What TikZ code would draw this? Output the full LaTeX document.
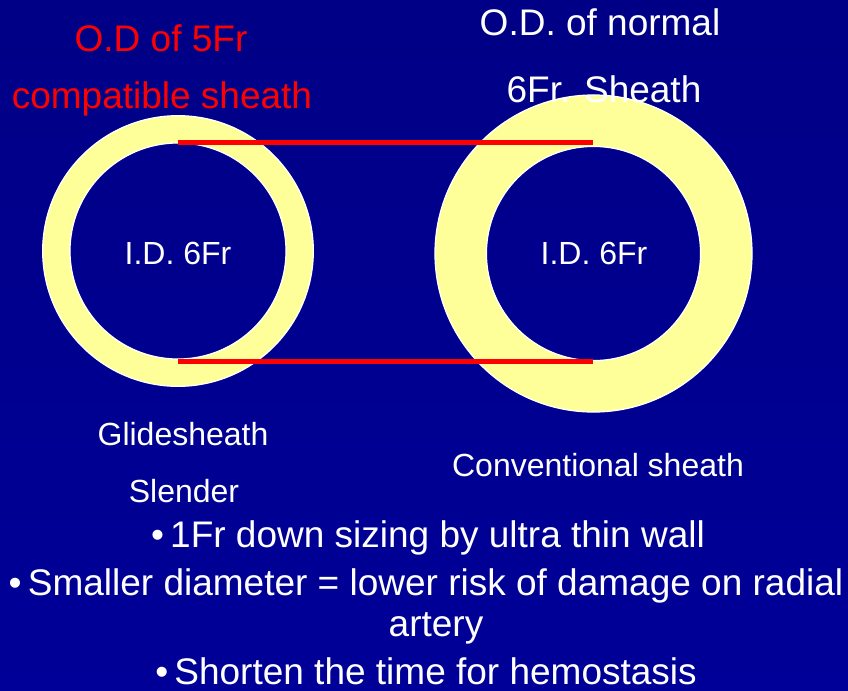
\documentclass[tikz,border=0pt]{standalone}
\usepackage{fontspec}
\setmainfont{Liberation Sans}
\usetikzlibrary{calc}

\definecolor{bgtop}{RGB}{0,0,134}
\definecolor{bgbot}{RGB}{0,0,152}
\definecolor{sheath}{RGB}{255,255,153}
\definecolor{odred}{RGB}{255,0,0}

\begin{document}
\begin{tikzpicture}[x=0.75pt,y=-0.75pt,
  big/.style={font=\fontsize{27.75}{33}\selectfont,anchor=base,inner sep=0pt},
  small/.style={font=\fontsize{24}{29}\selectfont,anchor=base,inner sep=0pt,text=white},
  odline/.style={odred,line width=3.75pt},
  rim/.style={white,line width=0.9pt}]
\useasboundingbox (0,0) rectangle (848,690);
\shade[top color=bgtop,bottom color=bgbot] (0,0) rectangle (848,690);
% the two sheaths
\coordinate (G) at (178,251); \coordinate (C) at (593.5,253.5);
\fill[sheath,even odd rule] (G) circle[radius=101.5pt] (G) circle[radius=81pt];
\draw[rim] (G) circle[radius=101.5pt]; \draw[rim] (G) circle[radius=81pt];
\fill[sheath,even odd rule] (C) circle[radius=118.9pt] (C) circle[radius=80.3pt];
\draw[rim] (C) circle[radius=118.9pt]; \draw[rim] (C) circle[radius=80.3pt];
% outer diameter of the 5Fr sheath = inner diameter
\coordinate (GT) at (178,142.5); \coordinate (GB) at (178,361.5);
\coordinate (CT) at (593,142.5); \coordinate (CB) at (593,361.5);
\draw[odline] (GT)--(CT);
\draw[odline] (GB)--(CB);
% labels
\node[big,text=odred] (od5a) at (161,51) {O.D of 5Fr};
\node[big,text=odred] (od5b) at (162,108) {compatible sheath};
\node[big,text=white] (od6a) at (600,35) {O.D. of normal};
\node[big,text=white] (od6b) at (604,102) {6Fr. Sheath};
\node[small] (idg) at (178,264) {I.D. 6Fr};
\node[small] (idc) at (594,264) {I.D. 6Fr};
\node[small] (glide) at (183,445) {Glidesheath};
\node[small] (slender) at (184,502) {Slender};
\node[small] (conv) at (598,476) {Conventional sheath};
% bullets
\node[big,text=white] (b1) at (428,547) {•\,1Fr down sizing by ultra thin wall};
\node[big,text=white] (b2) at (426,595) {•\,Smaller diameter = lower risk of damage on radial};
\node[big,text=white] (b2b) at (436,636) {artery};
\node[big,text=white,text depth=0pt] (b3) at (426,684) {•\,Shorten the time for hemostasis};
\end{tikzpicture}
\end{document}
